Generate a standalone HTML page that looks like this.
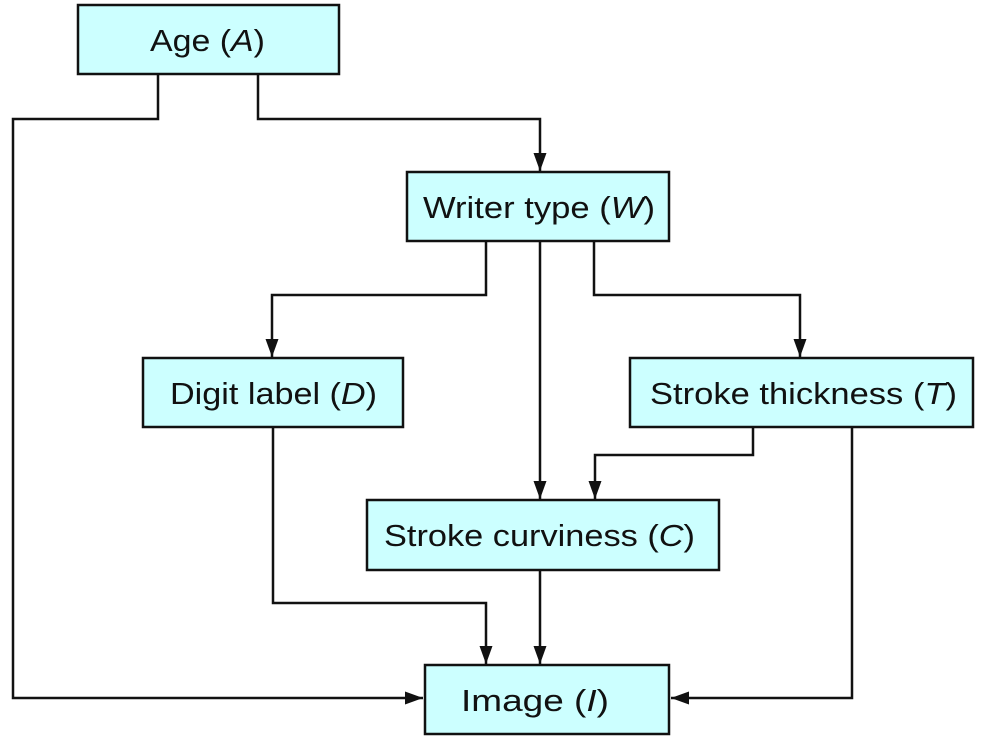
<!DOCTYPE html>
<html><head><style>
html,body{margin:0;padding:0;background:#fff;}
svg text{font-family:"Liberation Sans",sans-serif;font-size:31px;fill:#111;}
</style></head><body>
<svg width="987" height="749" viewBox="0 0 987 749" xmlns="http://www.w3.org/2000/svg">
<defs><marker id="a" markerWidth="18" markerHeight="20" refX="18" refY="10" orient="auto" markerUnits="userSpaceOnUse"><path d="M0,3.5 L18,10 L0,16.5 Z" fill="#111"/></marker></defs>
<g fill="none" stroke="#111" stroke-width="2.5">
<polyline points="158,74 158,119 13,119 13,698 423,698" marker-end="url(#a)"/>
<polyline points="258,74 258,119 540,119 540,171" marker-end="url(#a)"/>
<polyline points="486,241 486,295 272,295 272,357" marker-end="url(#a)"/>
<polyline points="540,241 540,499" marker-end="url(#a)"/>
<polyline points="594,241 594,295 800,295 800,357" marker-end="url(#a)"/>
<polyline points="753,427 753,455 595,455 595,499" marker-end="url(#a)"/>
<polyline points="852,427 852,698 671,698" marker-end="url(#a)"/>
<polyline points="273,427 273,603 486,603 486,664" marker-end="url(#a)"/>
<polyline points="540,570 540,664" marker-end="url(#a)"/>
</g>
<g fill="#ccffff" stroke="#111" stroke-width="2.5">
<rect x="78" y="5" width="261" height="69"/>
<rect x="407" y="172" width="262" height="69"/>
<rect x="143" y="358" width="260" height="69"/>
<rect x="630" y="358" width="343" height="69"/>
<rect x="367" y="500" width="352" height="70"/>
<rect x="425" y="665" width="244" height="69"/>
</g>
<g>
<text x="150" y="51" textLength="115" lengthAdjust="spacingAndGlyphs">Age (<tspan font-style="italic">A</tspan>)</text>
<text x="423" y="218" textLength="232" lengthAdjust="spacingAndGlyphs">Writer type (<tspan font-style="italic">W</tspan>)</text>
<text x="170" y="404" textLength="207" lengthAdjust="spacingAndGlyphs">Digit label (<tspan font-style="italic">D</tspan>)</text>
<text x="650" y="404" textLength="307" lengthAdjust="spacingAndGlyphs">Stroke thickness (<tspan font-style="italic">T</tspan>)</text>
<text x="384" y="546" textLength="311" lengthAdjust="spacingAndGlyphs">Stroke curviness (<tspan font-style="italic">C</tspan>)</text>
<text x="461" y="711" textLength="148" lengthAdjust="spacingAndGlyphs">Image (<tspan font-style="italic">I</tspan>)</text>
</g>
</svg>
</body></html>
